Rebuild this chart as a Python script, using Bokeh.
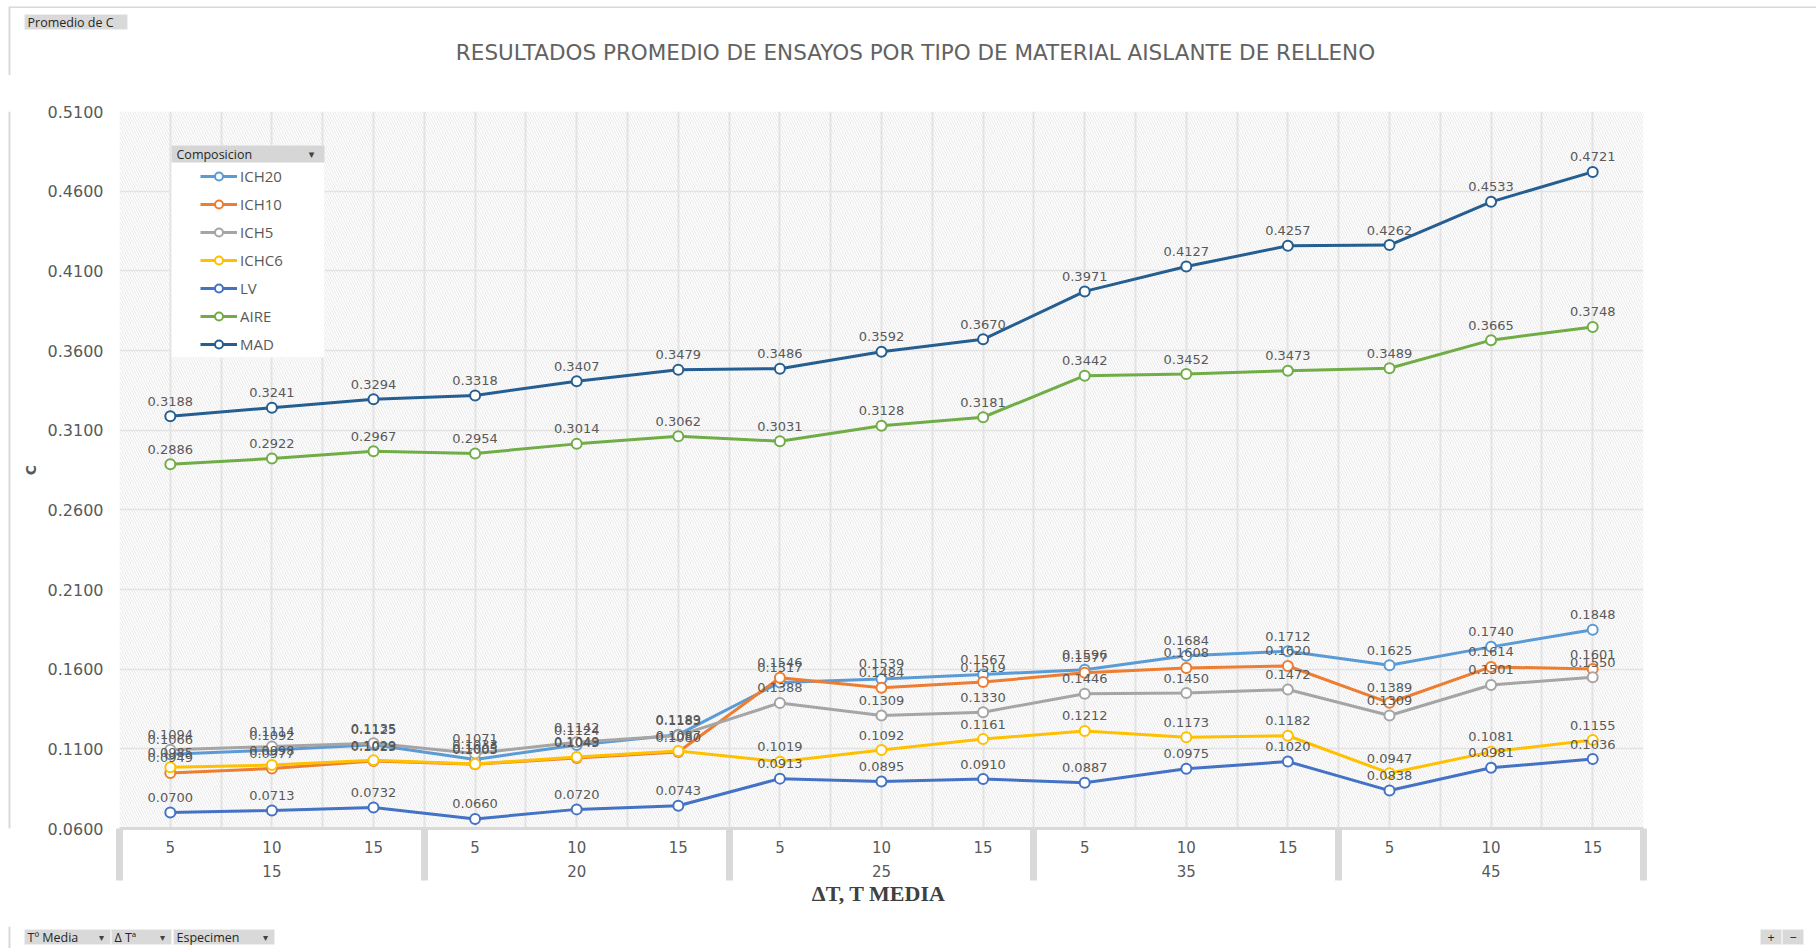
from bokeh.plotting import figure
from bokeh.layouts import column, row
from bokeh.models import (ColumnDataSource, LabelSet, Label, Legend, LegendItem,
                          LinearAxis, FixedTicker, BoxAnnotation, Range1d, Grid,
                          NumeralTickFormatter, CustomJSTickFormatter)
from bokeh.core.properties import value
from bokeh.embed import file_html
from bokeh.resources import INLINE

# ---- data: average C per material, grouped by mean temperature and delta T ----
t_media = ["15", "20", "25", "35", "45"]
delta_t = ["5", "10", "15"]

ich20 = [0.1066, 0.1092, 0.1125, 0.1033, 0.1124, 0.1189, 0.1517, 0.1539, 0.1567,
         0.1596, 0.1684, 0.1712, 0.1625, 0.1740, 0.1848]
ich10 = [0.0949, 0.0977, 0.1023, 0.1003, 0.1043, 0.1080, 0.1546, 0.1484, 0.1519,
         0.1577, 0.1608, 0.1620, 0.1389, 0.1614, 0.1601]
ich5 = [0.1094, 0.1114, 0.1135, 0.1071, 0.1142, 0.1183, 0.1388, 0.1309, 0.1330,
        0.1446, 0.1450, 0.1472, 0.1309, 0.1501, 0.1550]
ichc6 = [0.0985, 0.0998, 0.1029, 0.1005, 0.1049, 0.1087, 0.1019, 0.1092, 0.1161,
         0.1212, 0.1173, 0.1182, 0.0947, 0.1081, 0.1155]
lv = [0.0700, 0.0713, 0.0732, 0.0660, 0.0720, 0.0743, 0.0913, 0.0895, 0.0910,
      0.0887, 0.0975, 0.1020, 0.0838, 0.0981, 0.1036]
aire = [0.2886, 0.2922, 0.2967, 0.2954, 0.3014, 0.3062, 0.3031, 0.3128, 0.3181,
        0.3442, 0.3452, 0.3473, 0.3489, 0.3665, 0.3748]
mad = [0.3188, 0.3241, 0.3294, 0.3318, 0.3407, 0.3479, 0.3486, 0.3592, 0.3670,
       0.3971, 0.4127, 0.4257, 0.4262, 0.4533, 0.4721]

series_names = ["ICH20", "ICH10", "ICH5", "ICHC6", "LV", "AIRE", "MAD"]
series_values = [ich20, ich10, ich5, ichc6, lv, aire, mad]
series_colors = ["#5B9BD5", "#ED7D31", "#A5A5A5", "#FFC000", "#4472C4", "#70AD47", "#255E91"]

y_ticks = [0.06, 0.11, 0.16, 0.21, 0.26, 0.31, 0.36, 0.41, 0.46, 0.51]

# ---- page geometry (pixels) ----
W, H = 1816, 948
TOP_H, BOT_H, LEFT_W = 75, 22, 12
MAIN_H = H - TOP_H - BOT_H
FL, FR, FT, FB = 119, 1643, 111, 828     # plot-area edges on the page
EDGE_X, EDGE_Y = 9, 6                    # chart container edge

TXT = "#595959"
FONT = "DejaVu Sans"
UI_FONT = "Open Sans"
EDGE = "#d9d9d9"


def strip(width, height, x0, y0):
    """Blank panel whose data coordinates equal page pixels (y grows downward)."""
    f = figure(width=width, height=height, output_backend="svg", toolbar_location=None,
               x_range=Range1d(x0, x0 + width), y_range=Range1d(y0 + height, y0),
               x_axis_type=None, y_axis_type=None, min_border=0,
               outline_line_color=None, background_fill_color="white",
               border_fill_color="white")
    f.grid.visible = False
    return f


def box(f, l, r, t, b, fill, line=None):
    f.add_layout(BoxAnnotation(left=l, right=r, top=t, bottom=b, fill_color=fill,
                               fill_alpha=1, line_color=line, line_width=1))


def field_button(f, text, x0, x1, y0, y1, drop=True, centred=False):
    box(f, x0, x1, y0, y1, "#d9d9d9", "#f2f2f2")
    f.add_layout(Label(x=(x0 + x1) / 2 if centred else x0 + 3, y=(y0 + y1) / 2,
                       text=text, text_align="center" if centred else "left",
                       text_baseline="middle", text_font=UI_FONT,
                       text_font_size="12.5px", text_color="#262626"))
    if drop:
        f.add_layout(Label(x=x1 - 9, y=(y0 + y1) / 2, text="\u25BE", text_align="center",
                           text_baseline="middle", text_font=FONT,
                           text_font_size="10px", text_color="#404040"))


# ---- top strip: field button and chart title ----
top = strip(W, TOP_H, 0, 0)
box(top, EDGE_X, W, EDGE_Y, EDGE_Y + 1.5, EDGE)
box(top, EDGE_X - 1, EDGE_X + 1, EDGE_Y, TOP_H, EDGE)
field_button(top, "Promedio de C", 24, 127, 14, 29, drop=False)
top.add_layout(Label(x=915, y=52,
                     text="RESULTADOS PROMEDIO DE ENSAYOS POR TIPO DE MATERIAL AISLANTE DE RELLENO",
                     text_align="center", text_baseline="middle",
                     text_font=FONT, text_font_size="21.5px", text_color="#626262"))

# ---- left strip: container edge ----
left = strip(LEFT_W, MAIN_H, 0, TOP_H)
box(left, EDGE_X - 1, EDGE_X + 1, TOP_H, TOP_H + MAIN_H, EDGE)

# ---- main chart ----
n_groups = len(delta_t)
n = len(t_media) * n_groups
xs = [i + 0.5 for i in range(n)]
inner_labels = [delta_t[i % n_groups] for i in range(n)]

p = figure(width=W - LEFT_W, height=MAIN_H, output_backend="svg", toolbar_location=None,
           x_range=Range1d(0, n), y_range=Range1d(y_ticks[0], y_ticks[-1]),
           x_axis_type=None, y_axis_type=None,
           min_border_left=FL - LEFT_W, min_border_right=W - FR,
           min_border_top=FT - TOP_H, min_border_bottom=TOP_H + MAIN_H - FB,
           background_fill_color="white", border_fill_color="white",
           outline_line_color=None)

# hatched plot-area fill
p.quad(left=0, right=n, bottom=y_ticks[0], top=y_ticks[-1], level="image",
       fill_color="white", line_color=None,
       hatch_pattern="\\", hatch_color="#e8e8e8", hatch_scale=5, hatch_weight=1)

# grids
p.add_layout(Grid(dimension=0, ticker=FixedTicker(ticks=[k * 0.5 for k in range(2 * n + 1)]),
                  grid_line_color="#e3e3e3", grid_line_width=2))
p.add_layout(Grid(dimension=1, ticker=FixedTicker(ticks=y_ticks),
                  grid_line_color="#e3e3e3", grid_line_width=1.5))

# y axis
yaxis = LinearAxis(ticker=FixedTicker(ticks=y_ticks),
                   formatter=NumeralTickFormatter(format="0.0000"),
                   axis_label="C", axis_line_color=None,
                   major_tick_in=0, major_tick_out=0, minor_tick_in=0, minor_tick_out=0,
                   major_label_standoff=16, axis_label_standoff=6,
                   major_label_text_font=FONT, major_label_text_font_size="16px",
                   major_label_text_color=TXT,
                   axis_label_text_font=FONT, axis_label_text_font_size="14px",
                   axis_label_text_font_style="bold", axis_label_text_color=TXT)
p.add_layout(yaxis, "left")

# inner category axis (delta T); group separator bars drawn as minor ticks
bounds = [k * n_groups for k in range(len(t_media) + 1)]
xaxis1 = LinearAxis(ticker=FixedTicker(ticks=xs, minor_ticks=bounds),
                    formatter=CustomJSTickFormatter(args=dict(labels=inner_labels),
                                                    code="return labels[Math.floor(tick)];"),
                    axis_line_color=EDGE, axis_line_width=3,
                    major_tick_in=0, major_tick_out=0,
                    minor_tick_in=0, minor_tick_out=52,
                    minor_tick_line_color=EDGE, minor_tick_line_width=7,
                    major_label_standoff=-40,
                    major_label_text_font=FONT, major_label_text_font_size="15px",
                    major_label_text_color=TXT)
p.add_layout(xaxis1, "below")

# outer category axis (mean temperature)
group_centers = [k * n_groups + n_groups / 2 for k in range(len(t_media))]
xaxis2 = LinearAxis(ticker=FixedTicker(ticks=group_centers, minor_ticks=[]),
                    formatter=CustomJSTickFormatter(args=dict(labels=t_media, g=n_groups),
                                                    code="return labels[Math.floor(tick / g)];"),
                    axis_line_color=None, major_tick_in=0, major_tick_out=0,
                    minor_tick_in=0, minor_tick_out=0,
                    major_label_standoff=9,
                    major_label_text_font=FONT, major_label_text_font_size="15px",
                    major_label_text_color=TXT,
                    axis_label="\u0394T,  T MEDIA", axis_label_standoff=1,
                    axis_label_text_font="Liberation Serif", axis_label_text_font_size="22px",
                    axis_label_text_font_style="bold", axis_label_text_color="#404040")
p.add_layout(xaxis2, "below")

# series
items = []
for name, vals, col in zip(series_names, series_values, series_colors):
    src = ColumnDataSource(dict(x=xs, y=vals, t=[f"{v:.4f}" for v in vals]))
    lr = p.line("x", "y", source=src, line_color=col, line_width=3)
    sr = p.scatter("x", "y", source=src, marker="circle", size=10,
                   fill_color="white", line_color=col, line_width=2)
    p.add_layout(LabelSet(x="x", y="y", text="t", source=src, y_offset=15,
                          text_align="center", text_baseline="middle",
                          text_font=value(FONT), text_font_size="13px",
                          text_color=TXT))
    items.append(LegendItem(label=name, renderers=[lr, sr]))


def sx(cx):
    return cx - FL


def sy(cy):
    return FB - cy


# legend panel
p.add_layout(BoxAnnotation(left=sx(171), right=sx(324), top=sy(145), bottom=sy(357),
                           left_units="screen", right_units="screen",
                           top_units="screen", bottom_units="screen",
                           fill_color="white", fill_alpha=1, line_color="#eeeeee",
                           line_width=1, level="annotation"))
legend = Legend(items=items, location=(sx(200), sy(354)), orientation="vertical",
                padding=4, spacing=8, margin=0, label_height=20, glyph_height=20,
                glyph_width=37, label_standoff=3,
                label_text_font=UI_FONT, label_text_font_size="15px",
                label_text_color=TXT, background_fill_alpha=0,
                border_line_color=None, level="overlay")
p.add_layout(legend)
p.add_layout(BoxAnnotation(left=sx(171), right=sx(324), top=sy(145), bottom=sy(162),
                           left_units="screen", right_units="screen",
                           top_units="screen", bottom_units="screen",
                           fill_color="#d6d6d6", fill_alpha=1, line_color=None,
                           level="overlay"))
p.add_layout(Label(x=sx(176), y=sy(153.5), x_units="screen", y_units="screen",
                   text="Composicion", text_baseline="middle",
                   text_font=UI_FONT, text_font_size="12.5px", text_color="#262626",
                   level="overlay"))
p.add_layout(Label(x=sx(311), y=sy(153.5), x_units="screen", y_units="screen",
                   text="\u25BE", text_baseline="middle", text_align="center",
                   text_font=FONT, text_font_size="11px", text_color="#404040",
                   level="overlay"))

# ---- bottom strip: field buttons and zoom buttons ----
bot = strip(W, BOT_H, 0, H - BOT_H)
box(bot, EDGE_X - 1, EDGE_X + 1, H - BOT_H, H, EDGE)
field_button(bot, "T\u00ba Media", 24, 110, 929, 944)
field_button(bot, "\u0394 T\u00aa", 111, 171, 929, 944)
field_button(bot, "Especimen", 173, 274, 929, 944)
field_button(bot, "+", 1760, 1781, 929, 944, drop=False, centred=True)
field_button(bot, "\u2212", 1782, 1803, 929, 944, drop=False, centred=True)

layout = column(top, row(left, p, spacing=0), bot, spacing=0)
open("out.html", "w").write(file_html(layout, INLINE))
